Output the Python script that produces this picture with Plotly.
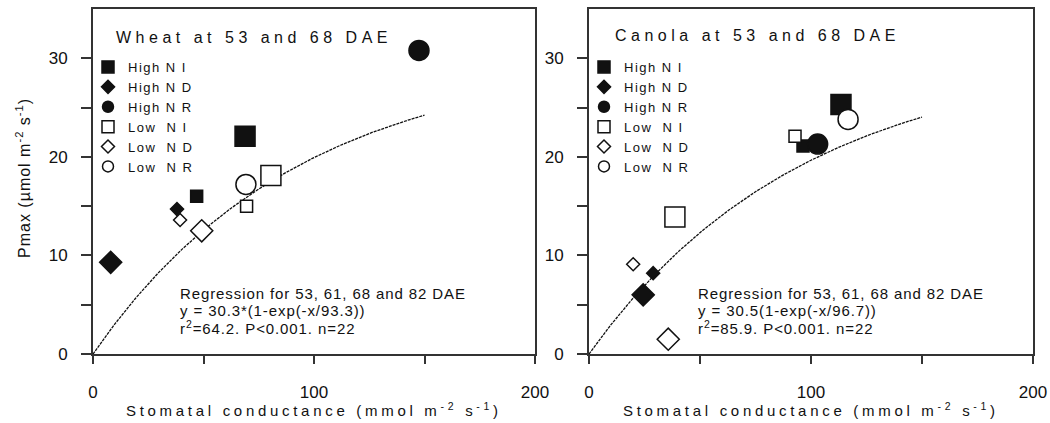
import plotly.graph_objects as go
import numpy as np

# ---------------- data ----------------
treatments = ["High N I", "High N D", "High N R", "Low N I", "Low N D", "Low N R"]
legend_labels = ["High N I", "High N D", "High N R",
                 "Low\u00a0\u00a0N I", "Low\u00a0\u00a0N D", "Low\u00a0\u00a0N R"]
marker_shapes = ["square", "diamond", "circle", "square", "diamond", "circle"]
marker_filled = [True, True, True, False, False, False]

# small symbols (53 DAE) and large symbols (68 DAE)
wheat_gs_53 = [46.9, 38.0, None, 69.5, 39.4, None]
wheat_pmax_53 = [16.0, 14.7, None, 15.0, 13.6, None]
wheat_gs_68 = [68.8, 8.0, 147.5, 80.5, 49.2, 69.2]
wheat_pmax_68 = [22.1, 9.3, 30.8, 18.1, 12.5, 17.2]

canola_gs_53 = [96.4, 28.9, None, 92.8, 19.9, None]
canola_pmax_53 = [21.1, 8.2, None, 22.1, 9.1, None]
canola_gs_68 = [113.5, 24.4, 103.0, 38.7, 35.7, 116.7]
canola_pmax_68 = [25.3, 6.0, 21.3, 13.9, 1.5, 23.8]

# regression y = a*(1-exp(-x/b)) as printed on the chart
wheat_fit_a, wheat_fit_b = 30.3, 93.3
canola_fit_a, canola_fit_b = 30.5, 96.7
fit_gs_max = 150

x_major_ticks = [0, 100, 200]
x_minor_ticks = [50, 150]
y_major_ticks = [0, 10, 20, 30]
y_minor_ticks = [5, 15, 25]

panel_titles = ["Wheat at 53 and 68 DAE", "Canola at 53 and 68 DAE"]
regression_lines = [
    ["Regression for 53, 61, 68 and 82 DAE",
     "y = 30.3*(1-exp(-x/93.3))",
     "r<sup>2</sup>=64.2. P&lt;0.001. n=22"],
    ["Regression for 53, 61, 68 and 82 DAE",
     "y = 30.5(1-exp(-x/96.7))",
     "r<sup>2</sup>=85.9. P&lt;0.001. n=22"],
]

# ---------------- layout helpers ----------------
W, H = 1050, 423
FONT = "Liberation Sans, Arial, sans-serif"
INK = "#111111"


def px(xp):
    return xp / W


def py(yp):
    return 1 - yp / H


def spaced(text, ls):
    return f'<span style="letter-spacing:{ls}px">{text}</span>'


small_size = {"square": 12, "diamond": 10, "circle": 11}
large_size = {"square": 20, "diamond": 17, "circle": 20}

fig = go.Figure()

panels = [
    dict(xa="x", ya="y", legend="legend",
         gs53=wheat_gs_53, pm53=wheat_pmax_53, gs68=wheat_gs_68, pm68=wheat_pmax_68,
         a=wheat_fit_a, b=wheat_fit_b),
    dict(xa="x2", ya="y2", legend="legend2",
         gs53=canola_gs_53, pm53=canola_pmax_53, gs68=canola_gs_68, pm68=canola_pmax_68,
         a=canola_fit_a, b=canola_fit_b),
]

for p in panels:
    xf = np.linspace(0, fit_gs_max, 151)
    yf = p["a"] * (1 - np.exp(-xf / p["b"]))
    fig.add_trace(go.Scatter(x=xf, y=yf, mode="lines", xaxis=p["xa"], yaxis=p["ya"],
                             line=dict(color=INK, width=1.3, dash="3px,1px"),
                             showlegend=False, hoverinfo="skip"))
    for i, name in enumerate(treatments):
        shape = marker_shapes[i]
        fill = INK if marker_filled[i] else "white"
        grp = p["legend"] + name
        fig.add_trace(go.Scatter(
            x=[p["gs53"][i]], y=[p["pm53"][i]], mode="markers",
            xaxis=p["xa"], yaxis=p["ya"], name=spaced(legend_labels[i], 1.5),
            legend=p["legend"], legendgroup=grp,
            marker=dict(symbol=shape, size=small_size[shape], color=fill,
                        line=dict(color=INK, width=1.5))))
        fig.add_trace(go.Scatter(
            x=[p["gs68"][i]], y=[p["pm68"][i]], mode="markers",
            xaxis=p["xa"], yaxis=p["ya"], name=legend_labels[i],
            legend=p["legend"], legendgroup=grp, showlegend=False,
            marker=dict(symbol=shape, size=large_size[shape], color=fill,
                        line=dict(color=INK, width=1.5))))

axis_common = dict(showgrid=False, zeroline=False, showline=True, mirror=True,
                   automargin=False,
                   linecolor="#333333", linewidth=2, ticks="outside",
                   tickcolor="#333333", tickwidth=1.5,
                   tickfont=dict(family=FONT, size=17, color=INK))

xdoms = [[px(93), px(535)], [px(589), px(1033)]]
ydom = [py(354), py(9)]


def xaxis_def(dom, anchor):
    return dict(domain=dom, range=[0, 200], tickvals=x_major_ticks,
                ticklen=8, ticklabelstandoff=14, anchor=anchor,
                minor=dict(tickvals=x_minor_ticks, ticks="outside", ticklen=8,
                           tickcolor="#333333", tickwidth=1.5, showgrid=False),
                **axis_common)


def yaxis_def(anchor):
    return dict(domain=ydom, range=[0, 35], tickvals=y_major_ticks,
                ticklen=10, ticklabelstandoff=10, anchor=anchor,
                minor=dict(tickvals=y_minor_ticks, ticks="outside", ticklen=10,
                           tickcolor="#333333", tickwidth=1.5, showgrid=False),
                **axis_common)


legend_common = dict(xanchor="left", yanchor="top", bgcolor="rgba(0,0,0,0)",
                     tracegroupgap=0, itemsizing="trace",
                     font=dict(family=FONT, size=13, color=INK))

fig.update_layout(
    width=W, height=H,
    margin=dict(l=0, r=0, t=0, b=0),
    paper_bgcolor="white", plot_bgcolor="white",
    font=dict(family=FONT, color=INK),
    xaxis=xaxis_def(xdoms[0], "y"),
    yaxis=yaxis_def("x"),
    xaxis2=xaxis_def(xdoms[1], "y2"),
    yaxis2=yaxis_def("x2"),
    legend=dict(x=px(88), y=py(52), **legend_common),
    legend2=dict(x=px(584), y=py(52), **legend_common),
)

ann = []
title_pos = [(114, 37), (613, 35)]
for (tx, ty), t in zip(title_pos, panel_titles):
    ann.append(dict(text=spaced(t, 4.5), x=px(tx), y=py(ty), xref="paper", yref="paper",
                    xanchor="left", yanchor="middle", showarrow=False,
                    font=dict(family=FONT, size=16, color=INK)))

reg_x = [178, 696]
reg_y = [293, 310, 327]
for rx, lines in zip(reg_x, regression_lines):
    for ry, line in zip(reg_y, lines):
        ann.append(dict(text=spaced(line, 0.9), x=px(rx), y=py(ry), xref="paper", yref="paper",
                        xanchor="left", yanchor="middle", showarrow=False,
                        font=dict(family=FONT, size=15, color=INK)))

x_title = "Stomatal conductance (mmol m<sup>-2</sup> s<sup>-1</sup>)"
for cx in [(93 + 535) / 2, (589 + 1033) / 2]:
    ann.append(dict(text=spaced(x_title, 3.7), x=px(cx), y=py(409), xref="paper", yref="paper",
                    xanchor="center", yanchor="middle", showarrow=False,
                    font=dict(family=FONT, size=15, color=INK)))

ann.append(dict(text=spaced("Pmax (\u00b5mol m<sup>-2</sup> s<sup>-1</sup>)", 1),
                x=px(23), y=py(178), xref="paper", yref="paper", textangle=-90,
                xanchor="center", yanchor="middle", showarrow=False,
                font=dict(family=FONT, size=16, color=INK)))

fig.update_layout(annotations=ann)

fig.write_html("out.html", config={"displayModeBar": False},
               post_script="document.body.style.margin='0';document.body.style.overflow='hidden';")
